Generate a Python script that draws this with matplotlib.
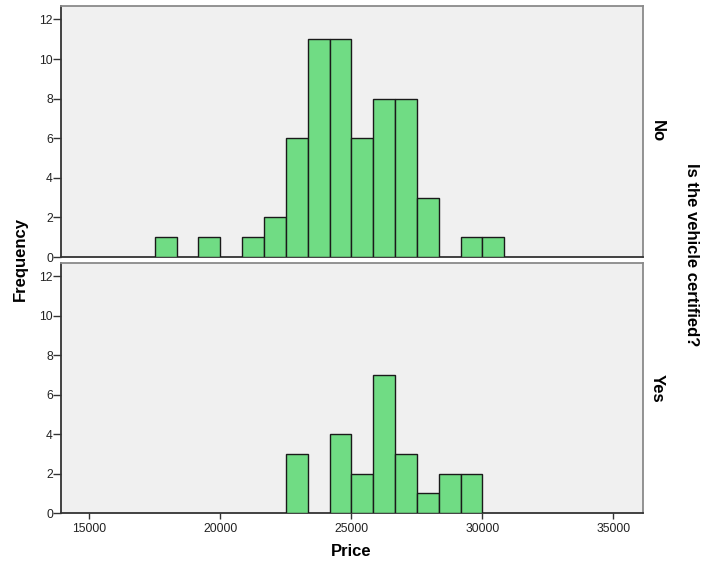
import numpy as np
import matplotlib.pyplot as plt

plt.rcParams['font.family'] = ['Liberation Sans', 'DejaVu Sans']

# histogram bins (price) and frequencies per group
bin_edges = [17500, 18333.3, 19166.7, 20000, 20833.3, 21666.7, 22500, 23333.3,
             24166.7, 25000, 25833.3, 26666.7, 27500, 28333.3, 29166.7, 30000, 30833.3]
counts_no = [1, 0, 1, 0, 1, 2, 6, 11, 11, 6, 8, 8, 3, 0, 1, 1]
counts_yes = [0, 0, 0, 0, 0, 0, 3, 0, 4, 2, 7, 3, 1, 2, 2, 0]
groups = ['No', 'Yes']
xticks = [15000, 20000, 25000, 30000, 35000]
yticks = [0, 2, 4, 6, 8, 10, 12]

bar_col = '#70dc84'
bg_col = '#f0f0f0'

fig = plt.figure(figsize=(7.01, 5.63), dpi=100)
ax_top = fig.add_axes([0.0870, 0.5435, 0.8303, 0.4458])
ax_bot = fig.add_axes([0.0870, 0.0888, 0.8303, 0.4440])

edges = np.array(bin_edges)
widths = np.diff(edges)

for ax, counts, name in [(ax_top, counts_no, groups[0]), (ax_bot, counts_yes, groups[1])]:
    c = np.array(counts)
    m = c > 0
    ax.bar(edges[:-1][m], c[m], width=widths[m], align='edge',
           color=bar_col, edgecolor='#1a1a1a', linewidth=1.0, zorder=3)
    ax.set_facecolor(bg_col)
    ax.set_xlim(13920, 36130)
    ax.set_ylim(0, 12.68)
    ax.set_yticks(yticks)
    ax.set_xticks(xticks)
    ax.tick_params(axis='y', length=5.5, width=1, color='#333333', labelsize=8.7,
                   labelcolor='#222222', pad=0.3)
    ax.tick_params(axis='x', length=4, width=1, color='#333333', labelsize=8.7,
                   labelcolor='#222222', pad=3)
    for s in ['left', 'bottom']:
        ax.spines[s].set_color('#333333')
        ax.spines[s].set_linewidth(1.3)
    for s in ['top', 'right']:
        ax.spines[s].set_color('#8a8a8a')
        ax.spines[s].set_linewidth(1.3)
    ax.text(1.012, 0.5, name, transform=ax.transAxes, rotation=270,
            ha='left', va='center', fontsize=12, fontweight='bold')

ax_top.tick_params(axis='x', bottom=False, labelbottom=False)

fig.text(0.029, 0.54, 'Frequency', rotation=90, ha='center', va='center',
         fontsize=12, fontweight='bold')
fig.text(0.501, 0.021, 'Price', ha='center', va='center',
         fontsize=12, fontweight='bold')
fig.text(0.986, 0.547, 'Is the vehicle certified?', rotation=270,
         ha='center', va='center', fontsize=12, fontweight='bold')

fig.savefig('out.png', dpi=100)
